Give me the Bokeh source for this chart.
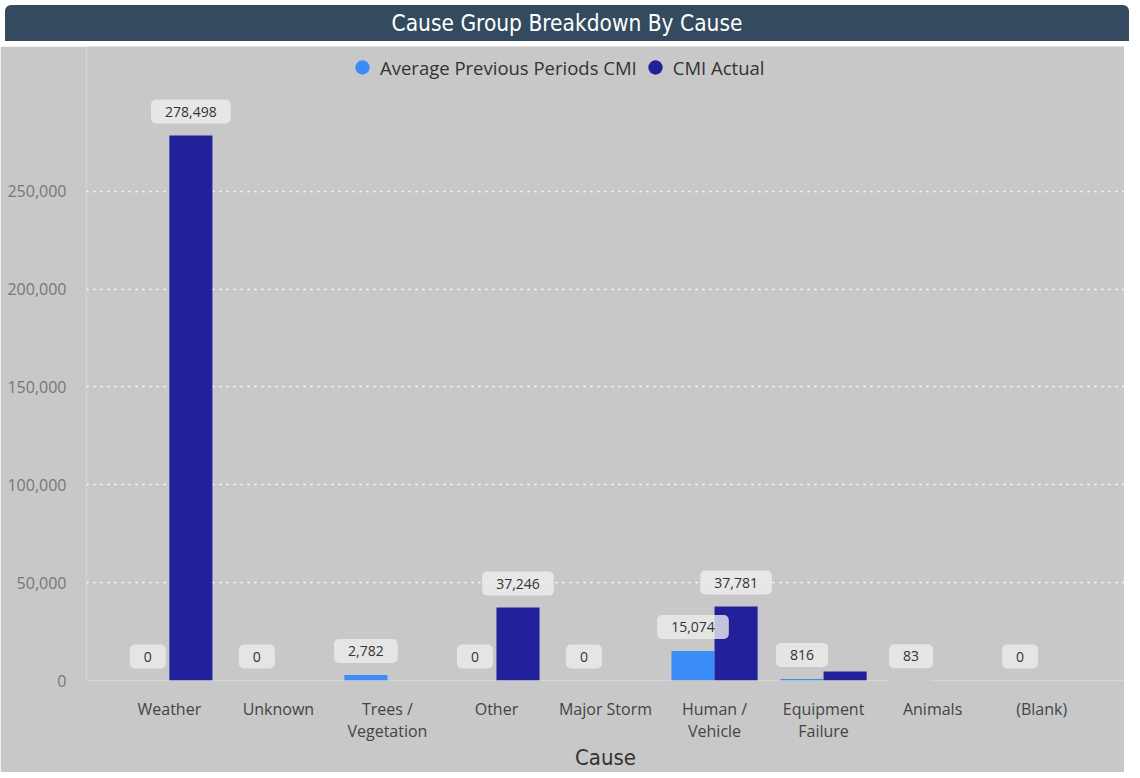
from bokeh.plotting import figure
from bokeh.models import (FactorRange, Range1d, Legend, LegendItem, FixedTicker,
                          NumeralTickFormatter, ColumnDataSource, Div, Text)
from bokeh.layouts import column
from bokeh.transform import dodge
from bokeh.core.properties import value
from bokeh.embed import file_html
from bokeh.resources import INLINE

# ---- data ----
causes = ["Weather", "Unknown", "Trees / Vegetation", "Other", "Major Storm",
          "Human / Vehicle", "Equipment Failure", "Animals", "(Blank)"]
tick_labels = ["Weather", "Unknown", "Trees /\nVegetation", "Other", "Major Storm",
               "Human /\nVehicle", "Equipment\nFailure", "Animals", "(Blank)"]
avg_prev = [0, 0, 2782, 0, 0, 15074, 816, 83, 0]
cmi_actual = [278498, 0, 0, 37246, 0, 37781, 4650, 0, 0]
actual_label_shown = [True, False, False, True, False, True, False, False, False]
y_ticks = [0, 50000, 100000, 150000, 200000, 250000]
series_names = ["Average Previous Periods CMI", "CMI Actual"]

AVG_COLOR = "#3a8cf7"
ACT_COLOR = "#22209b"
BG = "#c8c8c8"
LABEL_FONT = "Open Sans"
COND_FONT = "DejaVu Sans Condensed"

src = ColumnDataSource(dict(cause=tick_labels, avg=avg_prev, act=cmi_actual,
                            avg_label=[f"{v:,}" for v in avg_prev]))
act_src = ColumnDataSource(dict(
    cause=[c for c, s in zip(tick_labels, actual_label_shown) if s],
    act=[v for v, s in zip(cmi_actual, actual_label_shown) if s],
    act_label=[f"{v:,}" for v, s in zip(cmi_actual, actual_label_shown) if s]))

p = figure(x_range=FactorRange(factors=tick_labels, range_padding=0.26,
                               range_padding_units="absolute"),
           y_range=Range1d(0, 324000),
           width=1124, height=726, output_backend="svg", toolbar_location=None,
           min_border_left=86, min_border_right=0, min_border_top=0,
           min_border_bottom=0)
p.background_fill_color = BG
p.border_fill_color = BG
p.outline_line_color = None

off = 0.1975
bw = 0.395
r_avg = p.vbar(x=dodge("cause", -off, range=p.x_range), top="avg", width=bw,
               source=src, fill_color=AVG_COLOR, line_color=None)
r_act = p.vbar(x=dodge("cause", off, range=p.x_range), top="act", width=bw,
               source=src, fill_color=ACT_COLOR, line_color=None)

pad = dict(left=14, right=14, top=7, bottom=7)
t_avg = Text(x=dodge("cause", -off, range=p.x_range), y="avg", text="avg_label",
             text_align="center", text_baseline="middle", y_offset=-24,
             text_font=value(LABEL_FONT), text_font_size="14px", text_color="#333333",
             background_fill_color="#ececec", background_fill_alpha=0.8,
             border_radius=5, padding=pad)
p.add_glyph(src, t_avg)
t_act = Text(x=dodge("cause", off, range=p.x_range), y="act", text="act_label",
             text_align="center", text_baseline="middle", y_offset=-24,
             text_font=value(LABEL_FONT), text_font_size="14px", text_color="#333333",
             background_fill_color="#ececec", background_fill_alpha=0.85,
             border_radius=5, padding=pad)
p.add_glyph(act_src, t_act)

# legend with circle markers (one hidden NaN point each so the legend glyph is drawn)
leg_src = ColumnDataSource(dict(x=[tick_labels[0]], y=[float("nan")]))
l_avg = p.scatter(x="x", y="y", source=leg_src, marker="circle", size=16,
                  fill_color=AVG_COLOR, line_color=None)
l_act = p.scatter(x="x", y="y", source=leg_src, marker="circle", size=16,
                  fill_color=ACT_COLOR, line_color=None)
legend = Legend(items=[LegendItem(label=series_names[0], renderers=[l_avg]),
                       LegendItem(label=series_names[1], renderers=[l_act])],
                orientation="horizontal", location=(258, 593),
                border_line_color=None, background_fill_alpha=0,
                label_text_font=LABEL_FONT, label_text_font_size="18.5px",
                label_text_color="#333333", glyph_width=36, glyph_height=40,
                label_standoff=0, spacing=0, padding=0, margin=0)
p.add_layout(legend, "center")

# axes
p.yaxis.ticker = FixedTicker(ticks=y_ticks)
p.yaxis.formatter = NumeralTickFormatter(format="0,0")
p.yaxis.major_label_text_color = "#777777"
p.yaxis.major_label_text_font = LABEL_FONT
p.yaxis.major_label_text_font_size = "16px"
p.yaxis.major_label_standoff = 14
p.yaxis.axis_line_color = None
p.yaxis.major_tick_line_color = None
p.yaxis.minor_tick_line_color = None

p.xaxis.major_label_text_color = "#444444"
p.xaxis.major_label_text_font = LABEL_FONT
p.xaxis.major_label_text_font_size = "16px"
p.xaxis.major_label_text_line_height = 1.0
p.xaxis.major_label_standoff = 11
p.xaxis.axis_line_color = None
p.xaxis.major_tick_line_color = None
p.xaxis.minor_tick_line_color = None
p.xaxis.axis_label = "Cause"
p.xaxis.axis_label_text_font = COND_FONT
p.xaxis.axis_label_text_font_size = "22px"
p.xaxis.axis_label_text_font_style = "normal"
p.xaxis.axis_label_text_color = "#333333"
p.xaxis.axis_label_standoff = 0

p.xgrid.grid_line_color = None
p.ygrid.grid_line_color = "white"
p.ygrid.grid_line_dash = "2 5"
p.ygrid.grid_line_width = 1.5

title = Div(text="Cause Group Breakdown By Cause", width=1124, height=36,
            styles={"background-color": "#344a5f", "color": "white",
                    "font-size": "22.5px", "font-family": "'DejaVu Sans Condensed', 'DejaVu Sans'",
                    "font-stretch": "condensed",
                    "text-align": "center", "line-height": "36px",
                    "border-radius": "6px 6px 0 0"})

layout = column(title, p, spacing=0)
open("out.html", "w").write(file_html(layout, INLINE))
